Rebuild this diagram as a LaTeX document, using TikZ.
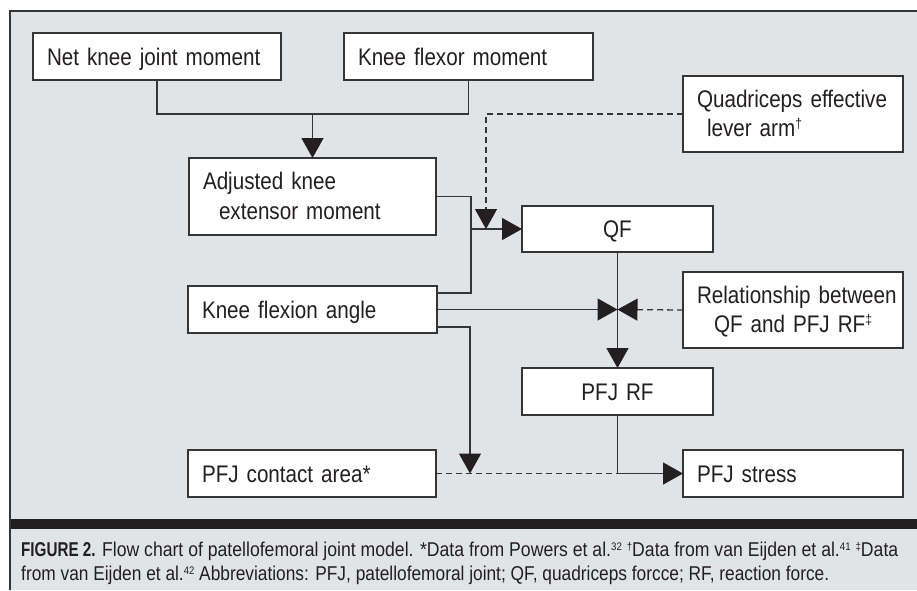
\documentclass[tikz,border=0pt]{standalone}
\usepackage{fontspec}
\usepackage{graphicx}
\setmainfont[FakeStretch=0.86]{Liberation Sans}
\newfontfamily\capfont[FakeStretch=0.95]{Liberation Sans}
\newfontfamily\capbold[FakeStretch=0.82]{Liberation Sans Bold}
\usetikzlibrary{arrows.meta,calc}
\hyphenpenalty=10000
\exhyphenpenalty=10000
\newcommand{\capsup}[1]{\raisebox{6pt}{\fontsize{11}{11}\selectfont #1}}
\newcommand{\boxsup}[1]{\raisebox{8pt}{\fontsize{14}{14}\selectfont #1}}
\newcommand{\twolines}[3]{\begin{tabular}[b]{@{}l@{}}#1\\\hspace*{#2}#3\end{tabular}}
\definecolor{panel}{HTML}{E1E4E7}
\definecolor{ink}{HTML}{231F20}
\definecolor{edge}{HTML}{353535}
\begin{document}
\begin{tikzpicture}[x=1pt,y=-1pt,
  box/.style={draw=edge, fill=white, line width=1.4pt, anchor=north west, outer sep=0pt,
    inner xsep=14pt, inner ysep=0pt, align=left, text=ink,
    text height=17.2pt, text depth=0pt,
    font=\fontsize{24}{29.5}\selectfont},
  tallbox/.style={box, text height=45pt, minimum height=76pt},
  cbox/.style={box, align=center},
  link/.style={draw=edge, line width=1.3pt},
  tip/.style={-{Triangle[length=20pt,width=22pt,fill=ink,color=ink]}},
  arr/.style={link, tip},
  dashlink/.style={link, dash pattern=on 6pt off 4pt},
  dasharr/.style={dashlink, tip},
  capt/.style={inner sep=0pt, text=ink, font=\capfont\fontsize{20}{24}\selectfont},
]
\useasboundingbox (0,0) rectangle (917,590);
\fill[panel] (10,11) rectangle (917,590);
\draw[edge, line width=1.5pt] (10,590) -- (10,11) -- (917,11);
\fill[ink] (11,519) rectangle (917,529);

\node[box, text width=220pt, minimum height=47pt] (net) at (33,33) {Net knee joint moment};
\node[box, text width=221pt, minimum height=47pt] (flex) at (344,33) {Knee flexor moment};
\node[tallbox, text width=219pt, minimum height=77pt] (adj) at (189,158) {\twolines{Adjusted knee}{16pt}{extensor moment}};
\node[tallbox, text width=192pt] (quad) at (683,76) {\twolines{Quadriceps effective}{10pt}{lever arm\boxsup{†}}};
\node[cbox, text width=163pt, minimum height=46pt] (qf) at (522,206) {QF};
\node[box, text width=221pt, minimum height=47pt] (kfa) at (188,286) {Knee flexion angle};
\node[tallbox, text width=192pt] (rel) at (683,272) {\twolines{Relationship between}{17pt}{QF and PFJ RF\boxsup{‡}}};
\node[cbox, text width=163pt, minimum height=47pt] (pfjrf) at (522,368) {PFJ RF};
\node[box, text width=220pt, minimum height=47pt] (pfjca) at (188,450) {PFJ contact area*};
\node[box, text width=192pt, minimum height=47pt] (stress) at (683,450) {PFJ stress};

\coordinate (j1) at (adj.north |- 0,114);
\draw[link] (net.south) |- (j1) -| (flex.south);
\draw[arr] (j1) -- (adj.north);

\coordinate (v1) at (471,293);
\coordinate (kfaT) at ($(kfa.north east)+(0,7)$);
\draw[link] (adj.east) -| (v1) -- (kfaT);
\draw[arr] (v1 |- qf.west) -- (qf.west);

\coordinate (col2) at (486,0);
\draw[dasharr] (quad.west) -| (qf.west -| col2);

\coordinate (x) at (qf.south |- kfa.east);
\draw[link] (qf.south) -- (x);
\draw[arr] (x) -- (pfjrf.north);
\draw[arr] (kfa.east) -- (x);
\draw[dasharr] (rel.west) -- (x);

\coordinate (col) at (470,0);
\coordinate (kfaB) at ($(kfa.south east)+(0,-6)$);
\coordinate (z) at (pfjrf.south |- pfjca.east);
\draw[dashlink] (pfjca.east) -- (z);
\draw[arr] (kfaB) -| (pfjca.east -| col);
\draw[link] (pfjrf.south) -- (z);
\draw[arr] (z) -- (stress.west);

\node[capt, anchor=base west] (cap1) at (21,556) {\resizebox{877pt}{\height}{{\capbold FIGURE 2.} Flow chart of patellofemoral joint model. *Data from Powers et al.\capsup{32} \capsup{†}Data from van Eijden et al.\capsup{41} \capsup{‡}Data}};
\node[capt, anchor=base west] (cap2) at (21,580) {\resizebox{808pt}{\height}{from van Eijden et al.\capsup{42} Abbreviations: PFJ, patellofemoral joint; QF, quadriceps forcce; RF, reaction force.}};
\end{tikzpicture}
\end{document}
